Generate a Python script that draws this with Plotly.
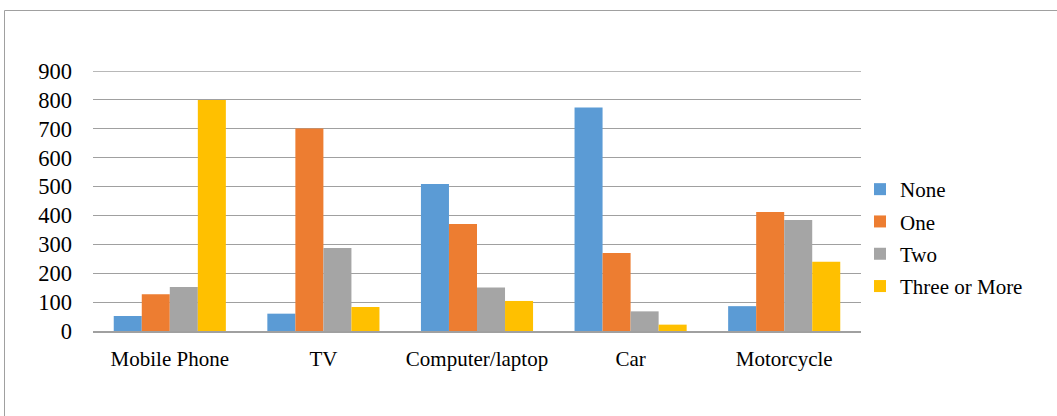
import plotly.graph_objects as go

categories = ["Mobile Phone", "TV", "Computer/laptop", "Car", "Motorcycle"]
none_vals = [52, 60, 509, 774, 86]
one_vals = [127, 701, 370, 270, 412]
two_vals = [152, 287, 151, 68, 384]
three_vals = [800, 83, 104, 22, 240]

series = [
    ("None", none_vals, "#5B9BD5"),
    ("One", one_vals, "#ED7D31"),
    ("Two", two_vals, "#A5A5A5"),
    ("Three or More", three_vals, "#FFC000"),
]

fig = go.Figure()
for name, vals, color in series:
    fig.add_trace(go.Bar(x=categories, y=vals, name=name, legendgroup=name,
                         marker=dict(color=color, line=dict(width=0))))

W, H = 1057, 416
L, R, T, B = 93, 196, 71, 85
pw, ph = W - L - R, H - T - B

def px_x(p):
    return (p - L) / pw

def px_y(p):
    return (H - B - p) / ph

SERIF = "Liberation Serif"

fig.update_layout(
    width=W, height=H,
    margin=dict(l=L, r=R, t=T, b=B),
    paper_bgcolor="white", plot_bgcolor="white",
    barmode="group", bargap=0.27, bargroupgap=0,
    font=dict(family=SERIF, color="#000000"),
    showlegend=True,
    legend=dict(x=px_x(860), y=px_y(238), xanchor="left", yanchor="middle",
                font=dict(family=SERIF, size=21), itemwidth=30, tracegroupgap=2,
                bgcolor="rgba(0,0,0,0)"),
    xaxis=dict(showgrid=False, showline=True, linecolor="#a0a0a0", linewidth=1.5,
               ticks="", tickfont=dict(family=SERIF, size=21), ticklabelstandoff=8),
    yaxis=dict(range=[0, 900], dtick=100, showgrid=True, gridcolor="#a0a0a0",
               gridwidth=1.2, zeroline=False, showline=False, ticks="",
               tickfont=dict(family=SERIF, size=22.5), ticklabelstandoff=20),
    shapes=[
        dict(type="line", xref="paper", yref="paper",
             x0=px_x(4.5), x1=px_x(4.5), y0=px_y(10.5), y1=px_y(H + 5),
             line=dict(color="#a0a0a0", width=1)),
        dict(type="line", xref="paper", yref="paper",
             x0=px_x(4.5), x1=px_x(W + 5), y0=px_y(10.5), y1=px_y(10.5),
             line=dict(color="#a0a0a0", width=1)),
    ],
)
# top gridline at the axis maximum
fig.add_hline(y=900, line=dict(color="#a0a0a0", width=1.5), layer="below")

fig.write_html("out.html")
